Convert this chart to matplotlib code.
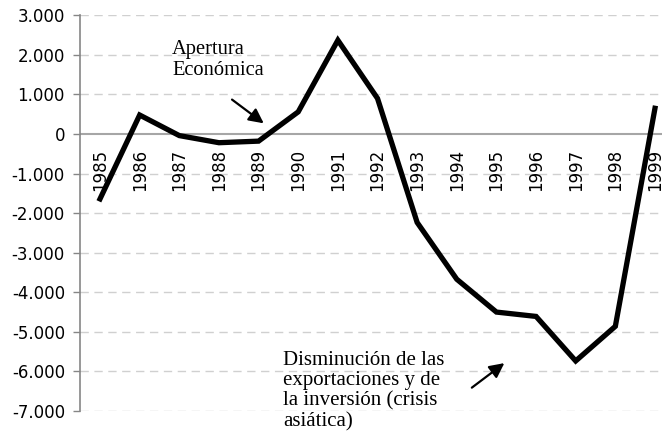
import matplotlib
matplotlib.use("Agg")
import matplotlib.pyplot as plt
from matplotlib.ticker import FuncFormatter
import matplotlib.transforms as mtrans

years = ["1985", "1986", "1987", "1988", "1989", "1990", "1991", "1992",
         "1993", "1994", "1995", "1996", "1997", "1998", "1999"]
values = [-1640, 480, -40, -220, -180, 560, 2370, 900,
          -2235, -3670, -4500, -4610, -5735, -4860, 650]
yticks = [3000, 2000, 1000, 0, -1000, -2000, -3000, -4000, -5000, -6000, -7000]

fig = plt.figure(figsize=(6.62, 4.47), dpi=100)
ax = fig.add_axes([80.2 / 662, 1 - 411 / 447, 594.6 / 662, (411 - 15.3) / 447])

x = list(range(len(years)))
ax.plot(x, values, color="black", lw=3.8, solid_joinstyle="miter", zorder=3, clip_on=False)

ax.set_xlim(-0.5, len(years) - 0.5)
ax.set_ylim(-7000, 3000)
ax.set_yticks(yticks)
ax.yaxis.set_major_formatter(FuncFormatter(lambda v, p: f"{int(v):,}".replace(",", ".")))
ax.tick_params(axis="y", length=5, color="#868686", labelsize=12, pad=6, width=1)
ax.set_xticks([])

for s in ["top", "right", "bottom"]:
    ax.spines[s].set_visible(False)
ax.spines["left"].set_color("#868686")
ax.spines["left"].set_linewidth(1.2)

for v in yticks:
    if v == 0:
        ax.axhline(0, color="#a6a6a6", lw=1.5, zorder=1)
    else:
        ax.axhline(v, color="#d0d0d0", lw=1.0, ls=(0, (6, 4)), zorder=1)

off = mtrans.offset_copy(ax.transData, fig=fig, x=0, y=-15, units="dots")
for i, yr in enumerate(years):
    ax.text(i, 0, yr, rotation=90, ha="center", va="top", fontsize=12,
            transform=off, zorder=2)

ax.text(1.82, 2380, "Apertura\nEconómica", family="Liberation Serif", fontsize=14.8,
        ha="left", va="top", linespacing=1.12, zorder=4)
ax.annotate("", xy=(4.13, 270), xytext=(3.33, 870),
            arrowprops=dict(arrowstyle="-|>", color="black", lw=1.6, mutation_scale=22,
                            shrinkA=0, shrinkB=0))

ax.text(4.62, -5480, "Disminución de las\nexportaciones y de\nla inversión (crisis\nasiática)",
        family="Liberation Serif", fontsize=15, ha="left", va="top", linespacing=1.1, zorder=4)
ax.annotate("", xy=(10.2, -5790), xytext=(9.38, -6410),
            arrowprops=dict(arrowstyle="-|>", color="black", lw=1.6, mutation_scale=22,
                            shrinkA=0, shrinkB=0))

fig.savefig("out.png", dpi=100)
